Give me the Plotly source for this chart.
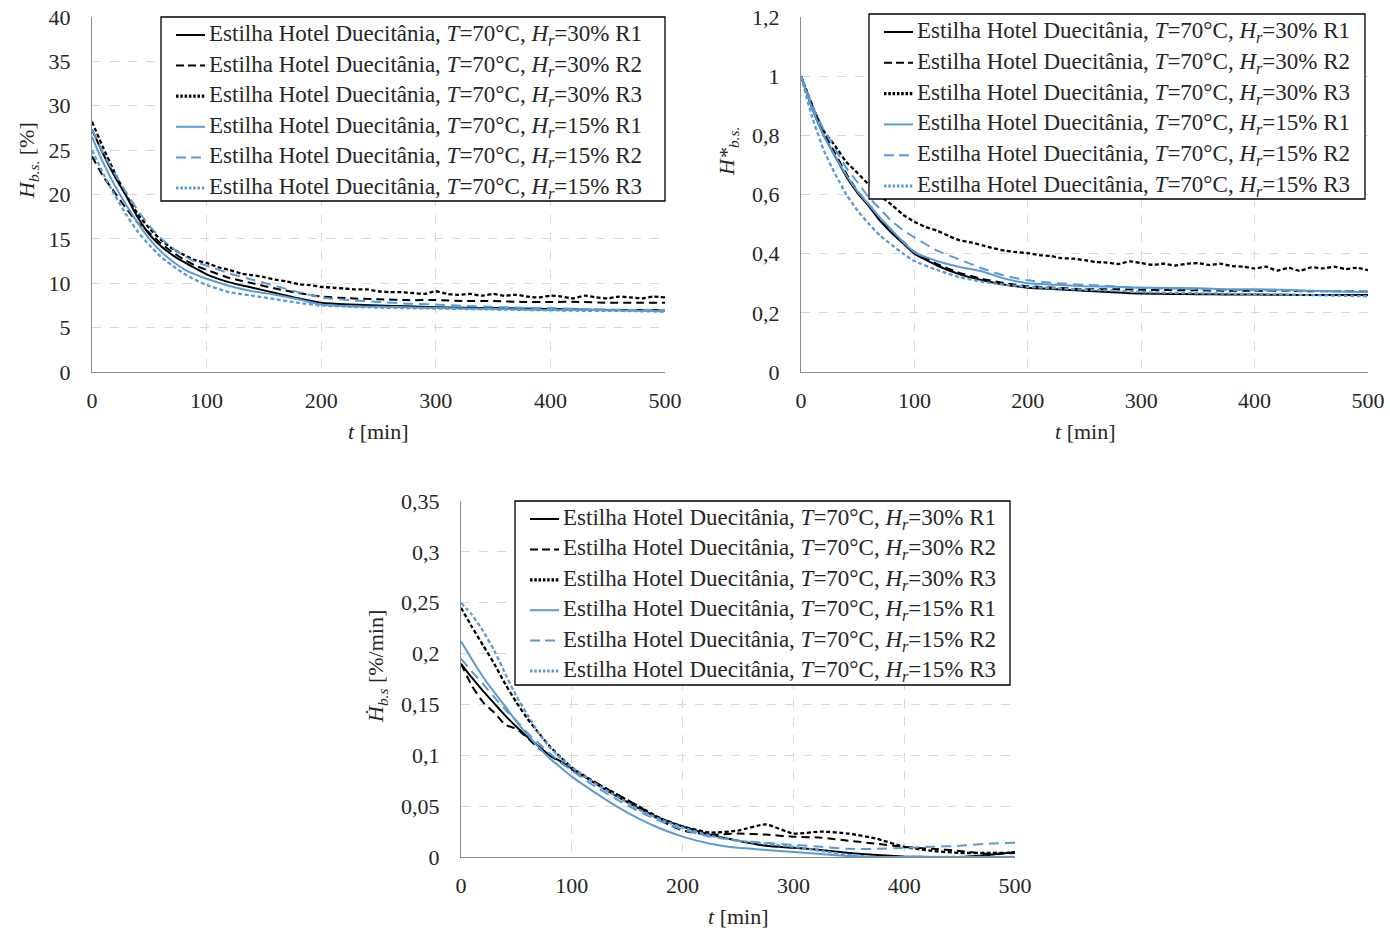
import plotly.graph_objects as go

# ---------------- data ----------------
t = [0, 10, 20, 30, 40, 50, 60, 70, 80, 90, 100, 120, 140, 160, 180, 200,
     225, 250, 275, 300, 325, 350, 375, 400, 425, 450, 475, 500]
t_fine = list(range(0, 501, 10))

series_names = [
    "Estilha Hotel Duecitânia, <i>T</i>=70°C, <i>H<sub>r</sub></i>=30% R1",
    "Estilha Hotel Duecitânia, <i>T</i>=70°C, <i>H<sub>r</sub></i>=30% R2",
    "Estilha Hotel Duecitânia, <i>T</i>=70°C, <i>H<sub>r</sub></i>=30% R3",
    "Estilha Hotel Duecitânia, <i>T</i>=70°C, <i>H<sub>r</sub></i>=15% R1",
    "Estilha Hotel Duecitânia, <i>T</i>=70°C, <i>H<sub>r</sub></i>=15% R2",
    "Estilha Hotel Duecitânia, <i>T</i>=70°C, <i>H<sub>r</sub></i>=15% R3",
]

# Moisture content, dry basis [%]
hbs_30_r1 = [27.3, 24.5, 22.0, 19.8, 17.4, 15.5, 14.2, 13.2, 12.4, 11.7, 11.0, 10.1, 9.5, 8.9, 8.3, 7.8,
             7.6, 7.5, 7.4, 7.3, 7.25, 7.2, 7.15, 7.1, 7.05, 7.0, 7.0, 6.95]
hbs_30_r2 = [24.3, 22.0, 20.2, 18.4, 16.8, 15.7, 14.5, 13.5, 12.7, 12.0, 11.5, 10.6, 10.0, 9.4, 8.9, 8.5,
             8.3, 8.2, 8.1, 8.1, 8.0, 8.0, 7.9, 7.9, 7.9, 7.8, 7.8, 7.8]
hbs_30_r3 = [28.2, 25.2, 22.4, 19.9, 17.8, 16.2, 14.9, 13.9, 13.2, 12.6, 12.3, 11.8, 11.5, 11.1, 10.9, 10.7,
             10.4, 10.2, 9.9, 9.8, 9.6, 9.5, 9.4, 9.3, 9.3, 9.1, 9.0, 9.0, 8.9, 8.8, 9.1, 8.8, 8.7, 8.8,
             8.6, 8.8, 8.6, 8.7, 8.5, 8.4, 8.6, 8.5, 8.3, 8.6, 8.4, 8.3, 8.5, 8.4, 8.3, 8.5, 8.4]
hbs_15_r1 = [26.5, 23.5, 21.0, 18.8, 16.8, 15.0, 13.6, 12.5, 11.6, 11.0, 10.5, 9.7, 9.1, 8.7, 8.2, 7.6,
             7.4, 7.35, 7.3, 7.2, 7.15, 7.1, 7.05, 7.0, 7.0, 6.95, 6.9, 6.85]
hbs_15_r2 = [27.3, 24.6, 22.3, 20.2, 18.2, 16.5, 15.1, 14.0, 13.1, 12.4, 12.0, 11.1, 10.4, 9.7, 9.0, 8.4,
             8.1, 7.9, 7.7, 7.6, 7.45, 7.35, 7.25, 7.2, 7.1, 7.05, 7.0, 7.0]
hbs_15_r3 = [25.0, 22.3, 19.9, 17.7, 15.8, 14.3, 13.0, 12.0, 11.1, 10.4, 9.8, 9.0, 8.6, 8.2, 7.8, 7.5,
             7.35, 7.25, 7.2, 7.15, 7.1, 7.05, 7.0, 6.95, 6.9, 6.9, 6.85, 6.8]

# Normalised moisture content H*
hn_30_r1 = [1.0, 0.89, 0.80, 0.73, 0.66, 0.605, 0.56, 0.51, 0.47, 0.435, 0.40, 0.36, 0.33, 0.31, 0.295, 0.285,
            0.28, 0.275, 0.27, 0.265, 0.264, 0.263, 0.262, 0.262, 0.261, 0.26, 0.26, 0.26]
hn_30_r2 = [1.0, 0.90, 0.81, 0.74, 0.67, 0.61, 0.565, 0.515, 0.475, 0.44, 0.405, 0.365, 0.335, 0.315, 0.30, 0.29,
            0.285, 0.28, 0.28, 0.278, 0.277, 0.276, 0.275, 0.275, 0.274, 0.273, 0.273, 0.272]
hn_30_r3 = [1.0, 0.90, 0.815, 0.765, 0.71, 0.672, 0.632, 0.595, 0.565, 0.532, 0.508, 0.49, 0.478, 0.46, 0.445,
            0.438, 0.428, 0.418, 0.41, 0.405, 0.402, 0.395, 0.392, 0.385, 0.383, 0.378, 0.372, 0.37, 0.365,
            0.374, 0.368, 0.362, 0.366, 0.36, 0.366, 0.368, 0.362, 0.366, 0.358, 0.356, 0.35, 0.356, 0.343,
            0.352, 0.342, 0.354, 0.35, 0.356, 0.348, 0.352, 0.344]
hn_15_r1 = [1.0, 0.89, 0.80, 0.73, 0.665, 0.61, 0.565, 0.52, 0.48, 0.44, 0.405, 0.375, 0.355, 0.34, 0.315, 0.30,
            0.295, 0.29, 0.288, 0.285, 0.284, 0.283, 0.28, 0.28, 0.278, 0.275, 0.272, 0.27]
hn_15_r2 = [1.0, 0.90, 0.82, 0.755, 0.69, 0.64, 0.59, 0.55, 0.51, 0.48, 0.455, 0.41, 0.38, 0.35, 0.325, 0.31,
            0.30, 0.295, 0.29, 0.285, 0.282, 0.28, 0.278, 0.276, 0.275, 0.274, 0.273, 0.272]
hn_15_r3 = [1.0, 0.86, 0.75, 0.67, 0.60, 0.545, 0.50, 0.46, 0.43, 0.40, 0.375, 0.345, 0.32, 0.305, 0.295, 0.288,
            0.283, 0.278, 0.275, 0.27, 0.268, 0.266, 0.265, 0.263, 0.262, 0.26, 0.258, 0.256]

# Drying rate [%/min]
dr_30_r1 = [0.19, 0.176, 0.163, 0.151, 0.139, 0.128, 0.118, 0.109, 0.10, 0.094, 0.087, 0.073, 0.06, 0.048, 0.038,
            0.03, 0.022, 0.016, 0.011, 0.009, 0.007, 0.004, 0.002, 0.0005, 0.0, 0.0, 0.002, 0.005]
dr_30_r2 = [0.19, 0.168, 0.152, 0.142, 0.13, 0.126, 0.117, 0.107, 0.10, 0.093, 0.086, 0.074, 0.062, 0.05, 0.036,
            0.026, 0.022, 0.023, 0.022, 0.02, 0.019, 0.016, 0.013, 0.01, 0.008, 0.006, 0.003, 0.004]
dr_30_r3 = [0.245, 0.226, 0.208, 0.19, 0.17, 0.152, 0.136, 0.122, 0.109, 0.098, 0.088, 0.074, 0.062, 0.05, 0.038,
            0.03, 0.024, 0.026, 0.032, 0.023, 0.025, 0.023, 0.018, 0.01, 0.006, 0.004, 0.004, 0.004]
dr_15_r1 = [0.212, 0.194, 0.177, 0.162, 0.148, 0.133, 0.12, 0.108, 0.097, 0.088, 0.079, 0.064, 0.05, 0.038, 0.028,
            0.02, 0.013, 0.009, 0.007, 0.005, 0.003, 0.001, 0.0, 0.0, 0.0, 0.0, 0.0, 0.0]
dr_15_r2 = [0.195, 0.182, 0.17, 0.157, 0.145, 0.134, 0.122, 0.112, 0.102, 0.093, 0.085, 0.07, 0.057, 0.045, 0.035,
            0.027, 0.02, 0.016, 0.014, 0.012, 0.01, 0.008, 0.008, 0.009, 0.01, 0.011, 0.013, 0.014]
dr_15_r3 = [0.25, 0.238, 0.222, 0.203, 0.18, 0.158, 0.14, 0.122, 0.108, 0.097, 0.088, 0.073, 0.06, 0.047, 0.037,
            0.029, 0.021, 0.016, 0.013, 0.01, 0.006, 0.002, 0.0, 0.0, 0.0, 0.0, 0.0, 0.0]

x_ticks = [0, 100, 200, 300, 400, 500]

# ---------------- styling ----------------
BLACK = "#000000"
BLUE = "#5B9BD5"
FONT = "Liberation Serif"
TXT = "#262626"
# line style of each replicate: (colour, dash on curve, width, dash in key, key width)
styles = [
    (BLACK, "solid", 2.0, "solid", 2.0),
    (BLACK, "8px,5px", 2.0, "8px,4px", 2.0),
    (BLACK, "4px,2.5px", 2.3, "2.5px,1.8px", 3.2),
    (BLUE, "solid", 2.0, "solid", 2.0),
    (BLUE, "10px,6px", 2.0, "10px,5px", 2.0),
    (BLUE, "4px,2.5px", 2.3, "2.5px,1.8px", 3.2),
]

W, H = 1390, 930


def px_x(p):
    return p / W


def px_y(p):
    return (H - p) / H


fig = go.Figure()

panels = [
    ("x", "y", [(t, hbs_30_r1), (t, hbs_30_r2), (t_fine, hbs_30_r3),
                (t, hbs_15_r1), (t, hbs_15_r2), (t, hbs_15_r3)]),
    ("x2", "y2", [(t, hn_30_r1), (t, hn_30_r2), (t_fine, hn_30_r3),
                  (t, hn_15_r1), (t, hn_15_r2), (t, hn_15_r3)]),
    ("x3", "y3", [(t, dr_30_r1), (t, dr_30_r2), (t, dr_30_r3),
                  (t, dr_15_r1), (t, dr_15_r2), (t, dr_15_r3)]),
]

for xa, ya, data in panels:
    for (xs, ys), name, st in zip(data, series_names, styles):
        fig.add_trace(go.Scatter(
            x=xs, y=ys, mode="lines", name=name, xaxis=xa, yaxis=ya, showlegend=False,
            line=dict(color=st[0], dash=st[1], width=st[2], shape="spline", smoothing=0.5),
        ))

axis_common = dict(
    showgrid=True, gridcolor="#d9d9d9", griddash="dash", gridwidth=1,
    showline=True, linecolor="#8c8c8c", linewidth=1.3, zeroline=False,
    ticks="outside", tickcolor="rgba(0,0,0,0)", automargin=False,
    tickfont=dict(family=FONT, size=22, color=TXT),
)
x_common = dict(axis_common, range=[0, 500], tickvals=x_ticks, ticklen=8)

fig.update_layout(
    width=W, height=H,
    margin=dict(l=0, r=0, t=0, b=0, autoexpand=False),
    paper_bgcolor="white", plot_bgcolor="white",
    separators=",.",
    showlegend=False,
    font=dict(family=FONT, size=22, color=TXT),
    xaxis=dict(x_common, domain=[px_x(92), px_x(665)], anchor="y"),
    yaxis=dict(axis_common, domain=[px_y(372), px_y(17)], anchor="x",
               range=[0, 40], dtick=5, ticklen=16),
    xaxis2=dict(x_common, domain=[px_x(801), px_x(1368)], anchor="y2"),
    yaxis2=dict(axis_common, domain=[px_y(372), px_y(17)], anchor="x2",
                range=[0, 1.2], dtick=0.2, ticklen=16),
    xaxis3=dict(x_common, domain=[px_x(461), px_x(1015)], anchor="y3"),
    yaxis3=dict(axis_common, domain=[px_y(857), px_y(501)], anchor="x3",
                range=[0, 0.35], dtick=0.05, ticklen=16),
)

# Series keys: framed box with a line sample and label per replicate
keys = [
    # box left, right, top, bottom, first row centre, row step
    (161, 665, 17, 201, 35, 30.6),
    (869, 1365, 14, 199, 32, 30.8),
    (515, 1010, 501, 685, 519, 30.4),
]
for left, right, top, bottom, row0, step in keys:
    fig.add_shape(type="rect", xref="paper", yref="paper",
                  x0=px_x(left), x1=px_x(right), y0=px_y(bottom), y1=px_y(top),
                  line=dict(color="black", width=1.3), fillcolor="white", layer="above")
    for i, (name, st) in enumerate(zip(series_names, styles)):
        cy = row0 + i * step
        fig.add_shape(type="line", xref="paper", yref="paper",
                      x0=px_x(left + 15), x1=px_x(left + 44), y0=px_y(cy), y1=px_y(cy),
                      line=dict(color=st[0], dash=st[3], width=st[4]), layer="above")
        fig.add_annotation(text=name, x=px_x(left + 46), y=px_y(cy), xref="paper", yref="paper",
                           xanchor="left", yanchor="middle", showarrow=False,
                           font=dict(family=FONT, size=23, color=TXT))

# Axis titles
titles = [
    ("<i>H</i><sub><i>b.s.</i></sub> [%]", 28, 160, -90),
    ("<i>t</i> [min]", 378, 432, 0),
    ("<i>H*</i><sub><i>b.s.</i></sub>", 728, 152, -90),
    ("<i>t</i> [min]", 1085, 432, 0),
    ("<i>Ḣ</i><sub><i>b.s</i></sub> [%/min]", 377, 667, -90),
    ("<i>t</i> [min]", 738, 916, 0),
]
for text, cx, cy, ang in titles:
    fig.add_annotation(
        text=text, x=px_x(cx), y=px_y(cy), xref="paper", yref="paper",
        xanchor="center", yanchor="middle", showarrow=False, textangle=ang,
        font=dict(family=FONT, size=22, color=TXT),
    )

fig.write_html("out.html")
